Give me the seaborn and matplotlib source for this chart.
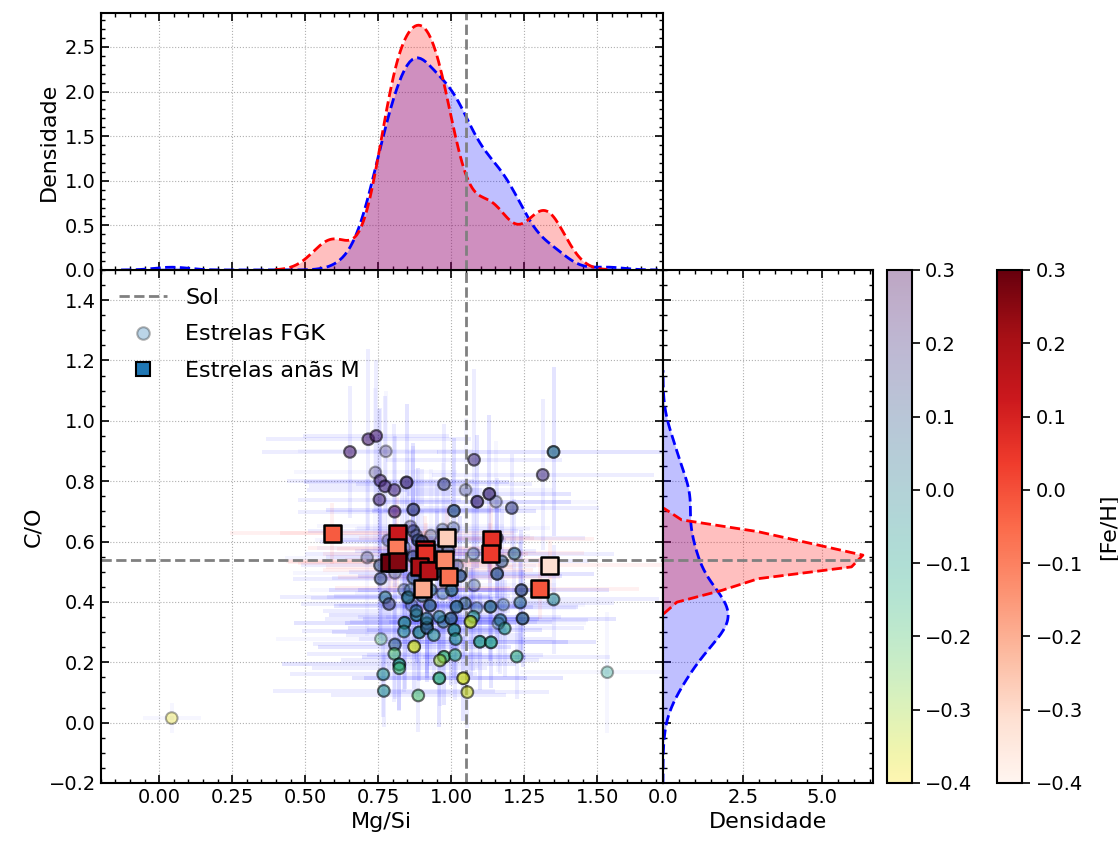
import numpy as np
import pandas as pd
import matplotlib
matplotlib.use("Agg")
import matplotlib.pyplot as plt
import seaborn as sns
from matplotlib.lines import Line2D
from matplotlib.colors import Normalize
from matplotlib.cm import ScalarMappable
from matplotlib.ticker import MultipleLocator

# ---------------- data ----------------
# FGK stars: Mg/Si, C/O, [Fe/H], number of catalogue entries (duplicates), errors
fgk_mgsi = [0.043, 1.534, 0.653, 0.716, 0.743, 0.776, 0.740, 0.757, 0.773, 0.805,
            0.847, 0.975, 0.754, 0.806, 0.870, 0.870, 0.887, 0.784, 0.712, 1.078,
            1.350, 1.313, 1.049, 1.089, 1.130, 1.153, 1.207, 1.009, 1.007, 1.156,
            1.076, 1.216, 1.173, 0.756, 0.807, 0.758, 0.838, 0.853, 0.774, 0.787,
            0.864, 0.927, 0.881, 0.840, 0.916, 0.838, 0.890, 0.917, 0.973, 0.999,
            0.759, 0.807, 0.873, 0.805, 0.822, 0.822, 0.975, 0.961, 0.767, 0.959,
            0.769, 0.887, 1.030, 1.078, 1.157, 1.240, 1.350, 1.236, 1.178, 1.134,
            1.087, 1.047, 1.018, 1.001, 1.076, 0.959, 0.916, 1.010, 1.015, 1.066,
            1.098, 1.136, 1.168, 1.183, 1.224, 1.013, 1.041, 1.055, 0.971, 1.244,
            1.161, 0.851, 0.860, 0.900, 0.930, 0.950, 1.020, 0.880, 0.840, 0.930,
            0.990, 0.870, 0.880, 0.940, 0.830, 0.870, 0.900, 0.950, 0.860, 0.970]
fgk_co = [0.015, 0.167, 0.897, 0.939, 0.950, 0.899, 0.829, 0.802, 0.783, 0.771,
          0.796, 0.790, 0.739, 0.699, 0.706, 0.635, 0.604, 0.604, 0.547, 0.871,
          0.897, 0.821, 0.771, 0.732, 0.758, 0.732, 0.711, 0.702, 0.645, 0.612,
          0.560, 0.560, 0.534, 0.521, 0.496, 0.477, 0.440, 0.416, 0.415, 0.393,
          0.389, 0.388, 0.356, 0.331, 0.329, 0.302, 0.299, 0.314, 0.334, 0.345,
          0.277, 0.259, 0.252, 0.228, 0.193, 0.180, 0.218, 0.206, 0.160, 0.147,
          0.105, 0.090, 0.486, 0.455, 0.493, 0.439, 0.408, 0.398, 0.391, 0.384,
          0.380, 0.395, 0.384, 0.439, 0.351, 0.351, 0.345, 0.307, 0.277, 0.334,
          0.268, 0.266, 0.340, 0.312, 0.219, 0.224, 0.147, 0.101, 0.428, 0.345,
          0.329, 0.414, 0.440, 0.420, 0.440, 0.500, 0.520, 0.620, 0.580, 0.620,
          0.570, 0.480, 0.370, 0.290, 0.560, 0.550, 0.600, 0.570, 0.650, 0.640]
fgk_feh = [-0.38, -0.10, 0.25, 0.25, 0.25, 0.18, 0.18, 0.22, 0.22, 0.22,
           0.20, 0.15, 0.22, 0.28, 0.15, 0.12, 0.10, 0.15, 0.15, 0.20,
           0.05, 0.20, 0.15, 0.20, 0.20, 0.15, 0.15, 0.10, 0.12, 0.12,
           0.05, 0.05, 0.10, 0.10, 0.10, 0.12, 0.10, -0.02, 0.02, 0.15,
           0.10, 0.08, -0.02, -0.02, 0.05, -0.05, -0.02, 0.08, 0.05, 0.08,
           -0.20, 0.08, -0.35, -0.20, -0.08, -0.18, -0.18, -0.30, -0.05, -0.15,
           -0.05, -0.20, 0.10, 0.10, 0.10, 0.12, -0.02, 0.05, 0.05, 0.05,
           0.05, 0.08, 0.05, 0.05, -0.08, 0.00, 0.02, -0.05, -0.08, -0.33,
           -0.08, -0.10, 0.00, -0.10, -0.15, -0.15, -0.35, -0.35, 0.05, 0.08,
           0.05, 0.05, 0.05, 0.05, 0.05, 0.05, 0.10, 0.15, 0.10, 0.10,
           0.10, 0.10, 0.05, -0.05, 0.15, 0.12, 0.15, 0.12, 0.18, 0.12]
fgk_nobs = [1, 1, 2, 2, 2, 1, 1, 2, 2, 2,
            3, 2, 2, 2, 3, 2, 3, 1, 1, 2,
            3, 2, 1, 3, 3, 1, 2, 3, 1, 2,
            1, 2, 2, 2, 1, 2, 1, 2, 2, 2,
            1, 3, 3, 3, 3, 2, 3, 3, 2, 3,
            1, 2, 3, 2, 3, 2, 3, 2, 2, 3,
            2, 2, 3, 1, 3, 3, 2, 2, 1, 3,
            1, 2, 3, 3, 2, 2, 2, 3, 2, 3,
            3, 3, 2, 2, 2, 2, 3, 2, 1, 3,
            1, 2, 1, 2, 2, 2, 1, 1, 1, 1,
            2, 2, 2, 2, 2, 2, 2, 2, 1, 1]
fgk_mgsi_err = [0.10, 0.30, 0.30, 0.35, 0.25, 0.30, 0.28, 0.32, 0.26, 0.30,
                0.35, 0.30, 0.28, 0.33, 0.30, 0.36, 0.30, 0.25, 0.28, 0.30,
                0.40, 0.38, 0.30, 0.32, 0.28, 0.35, 0.30, 0.28, 0.33, 0.30,
                0.26, 0.34, 0.30, 0.27, 0.35, 0.30, 0.32, 0.28, 0.36, 0.30,
                0.25, 0.33, 0.30, 0.38, 0.28, 0.35, 0.30, 0.27, 0.32, 0.30,
                0.36, 0.28, 0.33, 0.30, 0.40, 0.30, 0.28, 0.34, 0.32, 0.30,
                0.38, 0.30, 0.35, 0.28, 0.33, 0.30, 0.36, 0.32, 0.28, 0.30,
                0.34, 0.30, 0.26, 0.32, 0.30, 0.28, 0.35, 0.30, 0.33, 0.28,
                0.30, 0.36, 0.30, 0.27, 0.32, 0.30, 0.34, 0.28, 0.30, 0.32,
                0.30, 0.33, 0.28, 0.30, 0.35, 0.30, 0.27, 0.32, 0.30, 0.34,
                0.30, 0.28, 0.32, 0.30, 0.33, 0.30, 0.35, 0.28, 0.32, 0.30]
fgk_co_err = [0.05, 0.20, 0.22, 0.30, 0.25, 0.20, 0.28, 0.24, 0.30, 0.22,
              0.26, 0.20, 0.30, 0.25, 0.22, 0.28, 0.24, 0.20, 0.26, 0.30,
              0.28, 0.25, 0.24, 0.22, 0.26, 0.20, 0.18, 0.24, 0.22, 0.20,
              0.22, 0.18, 0.20, 0.24, 0.20, 0.22, 0.18, 0.20, 0.22, 0.24,
              0.18, 0.20, 0.16, 0.22, 0.18, 0.20, 0.16, 0.18, 0.20, 0.22,
              0.16, 0.18, 0.14, 0.16, 0.15, 0.14, 0.16, 0.15, 0.14, 0.16,
              0.12, 0.12, 0.20, 0.18, 0.22, 0.20, 0.18, 0.20, 0.16, 0.18,
              0.20, 0.18, 0.16, 0.20, 0.18, 0.16, 0.18, 0.16, 0.15, 0.18,
              0.16, 0.15, 0.18, 0.16, 0.14, 0.15, 0.14, 0.12, 0.18, 0.16,
              0.16, 0.18, 0.18, 0.16, 0.18, 0.20, 0.20, 0.22, 0.20, 0.22,
              0.20, 0.18, 0.16, 0.15, 0.22, 0.20, 0.24, 0.22, 0.25, 0.22]

# M dwarfs (listed back to front)
m_mgsi = [0.805, 0.593, 0.815, 0.811, 0.790, 0.815, 0.910, 0.912, 0.890,
          0.921, 0.984, 0.977, 0.992, 0.902, 1.137, 1.134, 1.337, 1.303]
m_co = [0.530, 0.627, 0.627, 0.580, 0.532, 0.535, 0.575, 0.560, 0.517,
        0.505, 0.613, 0.539, 0.483, 0.445, 0.607, 0.562, 0.522, 0.444]
m_feh = [0.27, -0.02, 0.13, -0.09, 0.29, 0.26, 0.15, 0.06, 0.20,
         0.17, -0.27, -0.12, -0.07, -0.19, 0.06, 0.04, -0.31, -0.01]
m_mgsi_err = [0.33, 0.35, 0.40, 0.30, 0.35, 0.38, 0.30, 0.35, 0.32,
              0.36, 0.30, 0.34, 0.38, 0.30, 0.35, 0.32, 0.40, 0.34]
m_co_err = [0.10, 0.10, 0.12, 0.08, 0.10, 0.09, 0.11, 0.10, 0.08,
            0.12, 0.10, 0.09, 0.08, 0.10, 0.12, 0.10, 0.08, 0.10]

sun_mgsi = 1.05
sun_co = 0.54
feh_range = (-0.4, 0.3)

# ---------------- tables ----------------
fgk = pd.DataFrame({"mgsi": fgk_mgsi, "co": fgk_co, "feh": fgk_feh,
                    "ex": fgk_mgsi_err, "ey": fgk_co_err})
fgk = fgk.loc[fgk.index.repeat(fgk_nobs)].reset_index(drop=True)
mdw = pd.DataFrame({"mgsi": m_mgsi, "co": m_co, "feh": m_feh,
                    "ex": m_mgsi_err, "ey": m_co_err})

# ---------------- style ----------------
sns.set_style("ticks")
plt.rcParams.update({
    "font.family": ["DejaVu Sans"],
    "text.color": "black", "axes.labelcolor": "black",
    "xtick.color": "black", "ytick.color": "black", "axes.edgecolor": "black",
    "axes.linewidth": 1.5,
    "xtick.direction": "in", "ytick.direction": "in",
    "xtick.top": True, "ytick.right": True,
    "xtick.minor.visible": True, "ytick.minor.visible": True,
    "xtick.major.size": 6, "ytick.major.size": 6,
    "xtick.minor.size": 3, "ytick.minor.size": 3,
    "xtick.major.width": 1.2, "ytick.major.width": 1.2,
    "xtick.minor.width": 1.0, "ytick.minor.width": 1.0,
    "xtick.labelsize": 14, "ytick.labelsize": 14,
    "axes.labelsize": 16,
    "grid.color": "#b0b0b0", "grid.linestyle": ":", "grid.linewidth": 0.8,
})

fig = plt.figure(figsize=(11.18, 8.41), dpi=100)
ax = fig.add_axes([0.0901, 0.0690, 0.5030, 0.6100])
axt = fig.add_axes([0.0901, 0.6790, 0.5030, 0.3056], sharex=ax)
axr = fig.add_axes([0.5930, 0.0690, 0.1878, 0.6100], sharey=ax)
cax1 = fig.add_axes([0.7931, 0.0690, 0.0226, 0.6100])
cax2 = fig.add_axes([0.8915, 0.0690, 0.0229, 0.6100])

norm = Normalize(*feh_range)
fgk_alpha = 0.35

# errorbars
ax.errorbar(fgk["mgsi"], fgk["co"], xerr=fgk["ex"], yerr=fgk["ey"], fmt="none",
            ecolor="blue", alpha=0.035, elinewidth=2.8, zorder=1)
ax.errorbar(mdw["mgsi"], mdw["co"], xerr=mdw["ex"], yerr=mdw["ey"], fmt="none",
            ecolor="red", alpha=0.06, elinewidth=2.8, zorder=1)

sns.scatterplot(data=fgk, x="mgsi", y="co", hue="feh", palette="viridis_r",
                hue_norm=feh_range, marker="o", s=70, edgecolor="black",
                linewidth=1.5, alpha=fgk_alpha, legend=False, ax=ax, zorder=3)
sns.scatterplot(data=mdw, x="mgsi", y="co", hue="feh", palette="Reds",
                hue_norm=feh_range, marker="s", s=150, edgecolor="black",
                linewidth=1.8, alpha=1.0, legend=False, ax=ax, zorder=4)

ax.axvline(sun_mgsi, color="gray", ls="--", lw=2, zorder=2)
ax.axhline(sun_co, color="gray", ls="--", lw=2, zorder=2)
ax.set_xlabel("Mg/Si")
ax.set_ylabel("C/O")
ax.grid(True)

handles = [
    Line2D([], [], color="gray", ls="--", lw=2),
    Line2D([], [], ls="none", marker="o", markersize=9, markerfacecolor="#1f77b4",
           markeredgecolor="black", markeredgewidth=1.5, alpha=0.3),
    Line2D([], [], ls="none", marker="s", markersize=10, markerfacecolor="#1f77b4",
           markeredgecolor="black", markeredgewidth=1.5),
]
ax.legend(handles, ["Sol", "Estrelas FGK", "Estrelas anãs M"], loc="upper left",
          frameon=False, fontsize=16, handlelength=2.2, borderaxespad=0.4,
          labelspacing=0.75)

# top marginal KDE (Mg/Si)
sns.kdeplot(x=fgk["mgsi"], ax=axt, fill=True, color="blue", alpha=0.25, linewidth=0)
sns.kdeplot(x=mdw["mgsi"], ax=axt, fill=True, color="red", alpha=0.25, linewidth=0,
            bw_adjust=0.63)
sns.kdeplot(x=fgk["mgsi"], ax=axt, color="blue", ls="--", lw=2)
sns.kdeplot(x=mdw["mgsi"], ax=axt, color="red", ls="--", lw=2, bw_adjust=0.63)
axt.axvline(sun_mgsi, color="gray", ls="--", lw=2)
axt.set_ylabel("Densidade")
axt.set_xlabel("")
axt.tick_params(labelbottom=False)
axt.yaxis.set_major_locator(MultipleLocator(0.5))
axt.grid(True)

# right marginal KDE (C/O)
sns.kdeplot(y=fgk["co"], ax=axr, fill=True, color="blue", alpha=0.25, linewidth=0)
sns.kdeplot(y=mdw["co"], ax=axr, fill=True, color="red", alpha=0.25, linewidth=0,
            bw_adjust=0.9, gridsize=10)
sns.kdeplot(y=fgk["co"], ax=axr, color="blue", ls="--", lw=2)
sns.kdeplot(y=mdw["co"], ax=axr, color="red", ls="--", lw=2, bw_adjust=0.9,
            gridsize=10)
axr.axhline(sun_co, color="gray", ls="--", lw=2)
axr.set_xlabel("Densidade")
axr.set_ylabel("")
axr.tick_params(labelleft=False)
axr.xaxis.set_major_locator(MultipleLocator(2.5))
axr.grid(True)

ax.set_xlim(-0.2, 1.725)
ax.set_ylim(-0.2, 1.5)
axt.set_ylim(bottom=0)
axr.set_xlim(left=0)

# colorbars
sm1 = ScalarMappable(norm=norm, cmap="viridis_r")
cb1 = fig.colorbar(sm1, cax=cax1, alpha=fgk_alpha)
sm2 = ScalarMappable(norm=norm, cmap="Reds")
cb2 = fig.colorbar(sm2, cax=cax2)
cb2.set_label("[Fe/H]", fontsize=16, labelpad=12)
for cb in (cb1, cb2):
    cb.ax.minorticks_off()
    cb.ax.tick_params(direction="out", length=6, width=1.2, right=True, left=False,
                      labelsize=14)
    cb.outline.set_linewidth(1.5)

fig.savefig("out.png", dpi=100)
